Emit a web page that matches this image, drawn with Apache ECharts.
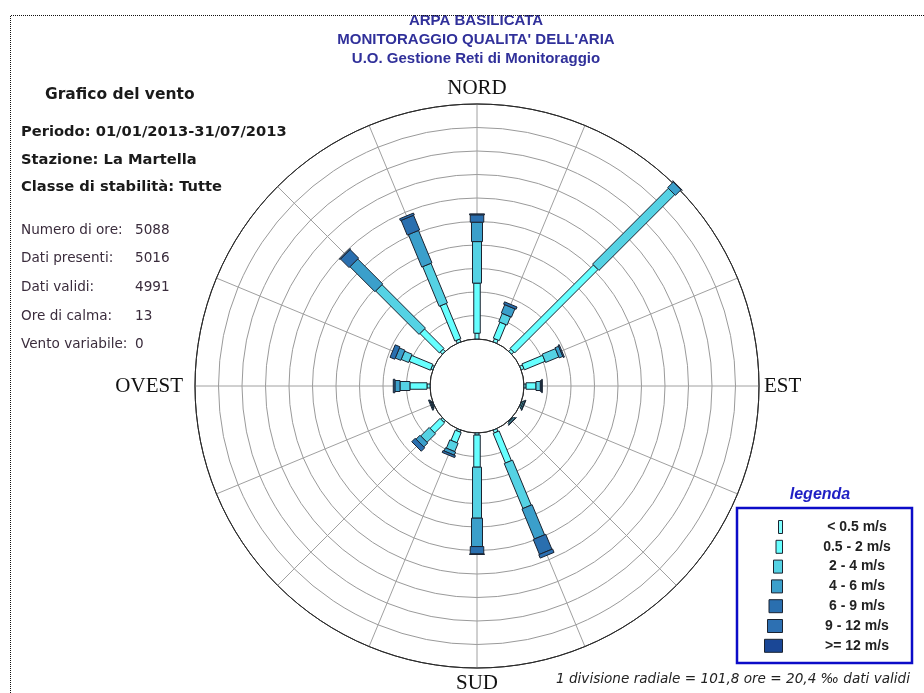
<!DOCTYPE html>
<html>
<head>
<meta charset="utf-8">
<title>Grafico del vento - La Martella</title>
<script src="https://cdn.jsdelivr.net/npm/echarts@6/dist/echarts.min.js"></script>
<style>
  html, body { margin: 0; padding: 0; background: #fff; }
  #chart { width: 924px; height: 693px; }
</style>
</head>
<body>
<div id="chart"></div>
<script>
"use strict";

// 16 settori, da Nord in senso orario (gradi)
const directions = ["N", "NNE", "NE", "ENE", "E", "ESE", "SE", "SSE", "S", "SSW", "SW", "WSW", "W", "WNW", "NW", "NNW"];
const dirAngles = [0, 22.5, 45, 67.5, 90, 112.5, 135, 157.5, 180, 202.5, 225, 247.5, 270, 292.5, 315, 337.5];

// classi di velocita'
const speedClasses = ["< 0.5 m/s", "0.5 - 2 m/s", "2 - 4 m/s", "4 - 6 m/s", "6 - 9 m/s", "9 - 12 m/s", ">= 12 m/s"];

// ore per classe, una lista per classe, in ordine di directions
const hoursLt05  = [25, 15,  13, 13, 9, 2, 2,  13,   9,  9,  9, 2, 13,   9,  13,  13];
const hours05_2  = [217, 75, 511, 97, 43, 6, 4, 139, 139, 48, 61, 4, 74, 100, 119, 165];
const hours2_4   = [180, 39, 464, 62, 19, 6, 6, 211, 221, 39, 52, 4, 43,  35, 266, 186];
const hours4_6   = [84, 39,  35, 17, 6, 2, 2, 141, 123, 15, 24, 4, 22,  26, 153, 152];
const hours6_9   = [32, 11,   2,  5, 2, 0, 0,  70,  32,  9, 21, 0,  7,  22,  52,  69];
const hours9_12  = [4,  0,   0,  0, 0, 0, 0,  16,   2,  0,  0, 0,  0,   0,   4,   9];
const hoursGe12  = [0,  0,   0,  0, 0, 0, 0,   0,   0,  0,  0, 0,  0,   0,   0,   0];
const classHours = [hoursLt05, hours05_2, hours2_4, hours4_6, hours6_9, hours9_12, hoursGe12];

// scala radiale: 1 divisione = 101,8 ore, 10 divisioni
const radialStep = 101.8;
const radialDivisions = 10;

// etichette punti cardinali
const cardinalLabels = { 0: "NORD", 90: "EST", 180: "SUD", 270: "OVEST" };

// testi
const headerLines = ["ARPA BASILICATA", "MONITORAGGIO QUALITA' DELL'ARIA", "U.O. Gestione Reti di Monitoraggio"];
const infoTitle = "Grafico del vento";
const infoBold = ["Periodo: 01/01/2013-31/07/2013", "Stazione: La Martella", "Classe di stabilit\u00e0: Tutte"];
const statLabels = ["Numero di ore:", "Dati presenti:", "Dati validi:", "Ore di calma:", "Vento variabile:"];
const statValues = ["5088", "5016", "4991", "13", "0"];
const footNote = "1 divisione radiale = 101,8 ore = 20,4 \u2030 dati validi";

// stile
const classColors = ["#80ffff", "#66ffff", "#55d2e4", "#3b9fcb", "#2a6faf", "#2d70b2", "#1a4796"];
const barWidths = [4, 6.5, 9, 11, 13.5, 15, 18];
const outline = "#1b2330";

const chart = echarts.init(document.getElementById("chart"));

// costruisce i segmenti impilati [inizio, fine, angolo]
const cumul = directions.map(() => 0);
const series = speedClasses.map((name, k) => {
  const data = [];
  classHours[k].forEach((v, i) => {
    const start = cumul[i];
    cumul[i] += v;
    if (v > 0) data.push([start, start + v, dirAngles[i]]);
  });
  return {
    type: "custom",
    name: name,
    coordinateSystem: "polar",
    encode: { radius: [0, 1], angle: 2 },
    z: 3 + k,
    data: data,
    renderItem: function (params, api) {
      const a = api.value(2);
      const p0 = api.coord([api.value(0), a]);
      const p1 = api.coord([api.value(1), a]);
      const cs = params.coordSys;
      let dx = p1[0] - cs.cx, dy = p1[1] - cs.cy;
      const len = Math.hypot(dx, dy) || 1;
      dx /= len; dy /= len;
      const h = barWidths[k] / 2;
      const nx = -dy * h, ny = dx * h;
      return {
        type: "polygon",
        shape: { points: [
          [p0[0] + nx, p0[1] + ny], [p1[0] + nx, p1[1] + ny],
          [p1[0] - nx, p1[1] - ny], [p0[0] - nx, p0[1] - ny]
        ] },
        style: { fill: classColors[k], stroke: outline, lineWidth: 1 }
      };
    }
  };
});

// anelli: interno ed esterno scuri, gli altri grigi
const ringColors = [];
for (let i = 0; i <= radialDivisions; i++) {
  ringColors.push(i === 0 || i === radialDivisions ? "#2a2a2a" : "#9a9a9a");
}

const graphics = [];
headerLines.forEach((t, i) => {
  graphics.push({
    type: "text", z: 10,
    style: { text: t, x: 476, y: 21 + i * 19, fill: "#30309a",
      font: 'bold 15px "Liberation Sans", Arial, sans-serif',
      textAlign: "center", textVerticalAlign: "middle", verticalAlign: "middle" }
  });
});
// bordo tratteggiato che taglia la prima riga
graphics.push({ type: "rect", z: 11, shape: { x: 0, y: 0, width: 924, height: 15 }, style: { fill: "#fff" } });
graphics.push({ type: "polyline", z: 12, shape: { points: [[924, 15.5], [10.5, 15.5], [10.5, 693]] },
  style: { fill: null, stroke: "#111", lineWidth: 1, lineDash: [1, 1] } });

graphics.push({
  type: "text", z: 10,
  style: { text: infoTitle, x: 45, y: 95, fill: "#1a1a1a",
    font: 'bold 15.5px "DejaVu Sans", Verdana, sans-serif', textVerticalAlign: "middle", verticalAlign: "middle" }
});
infoBold.forEach((t, i) => {
  graphics.push({
    type: "text", z: 10,
    style: { text: t, x: 21, y: [132, 160, 187][i], fill: "#1a1a1a",
      font: 'bold 14.7px "DejaVu Sans", Verdana, sans-serif', textVerticalAlign: "middle", verticalAlign: "middle" }
  });
});
statLabels.forEach((t, i) => {
  const y = 230 + i * 28.7;
  graphics.push({ type: "text", z: 10,
    style: { text: t, x: 21, y: y, fill: "#3a2c3c", font: '13.6px "DejaVu Sans", Verdana, sans-serif',
      textVerticalAlign: "middle", verticalAlign: "middle" } });
  graphics.push({ type: "text", z: 10,
    style: { text: statValues[i], x: 135, y: y, fill: "#3a2c3c", font: '13.6px "DejaVu Sans", Verdana, sans-serif',
      textVerticalAlign: "middle", verticalAlign: "middle" } });
});

// legenda
graphics.push({ type: "text", z: 10,
  style: { text: "legenda", x: 820, y: 495, fill: "#1f1fc4", font: 'italic bold 16px "Liberation Sans", Arial, sans-serif',
    textAlign: "center", textVerticalAlign: "middle", verticalAlign: "middle" } });
graphics.push({ type: "rect", z: 10, shape: { x: 737, y: 508, width: 175, height: 155 },
  style: { fill: "#fff", stroke: "#0c0cc8", lineWidth: 2.5 } });
speedClasses.forEach((name, k) => {
  const y = 527 + k * 19.8;
  graphics.push({ type: "rect", z: 11, shape: { x: 782.5 - barWidths[k], y: y - 6.5, width: barWidths[k], height: 13 },
    style: { fill: classColors[k], stroke: outline, lineWidth: 1 } });
  graphics.push({ type: "text", z: 11,
    style: { text: name, x: 857, y: y, fill: "#222", font: 'bold 14px "Liberation Sans", Arial, sans-serif',
      textAlign: "center", textVerticalAlign: "middle", verticalAlign: "middle" } });
});

graphics.push({ type: "text", z: 10,
  style: { text: footNote, x: 910, y: 679, fill: "#222", font: 'italic 13.6px "DejaVu Sans", Verdana, sans-serif',
    textAlign: "right", textVerticalAlign: "middle", verticalAlign: "middle" } });

chart.setOption({
  animation: false,
  backgroundColor: "#fff",
  polar: { center: [477, 386], radius: [47, 282] },
  angleAxis: {
    type: "value", min: 0, max: 360, interval: 22.5, startAngle: 90, clockwise: true,
    axisLine: { show: true, lineStyle: { color: "#2a2a2a", width: 1 } },
    axisTick: { show: false },
    axisLabel: {
      show: true, margin: 5, color: "#111",
      fontFamily: '"Liberation Serif", "Times New Roman", serif', fontSize: 21,
      formatter: (v) => {
        const t = v < 360 ? cardinalLabels[v] : "";
        if (!t) return "";
        return v === 270 ? "{w|" + t + "}" : t;
      },
      rich: { w: { fontFamily: '"Liberation Serif", "Times New Roman", serif', fontSize: 21, color: "#111", padding: [0, 7, 0, 0] } }
    },
    splitLine: { show: true, lineStyle: { color: "#a0a0a0", width: 1 } }
  },
  radiusAxis: {
    type: "value", min: 0, max: radialStep * radialDivisions, interval: radialStep,
    axisLine: { show: false }, axisTick: { show: false }, axisLabel: { show: false },
    splitLine: { show: true, lineStyle: { color: ringColors, width: 1 } }
  },
  series: series,
  graphic: { elements: graphics }
});
</script>
</body>
</html>
